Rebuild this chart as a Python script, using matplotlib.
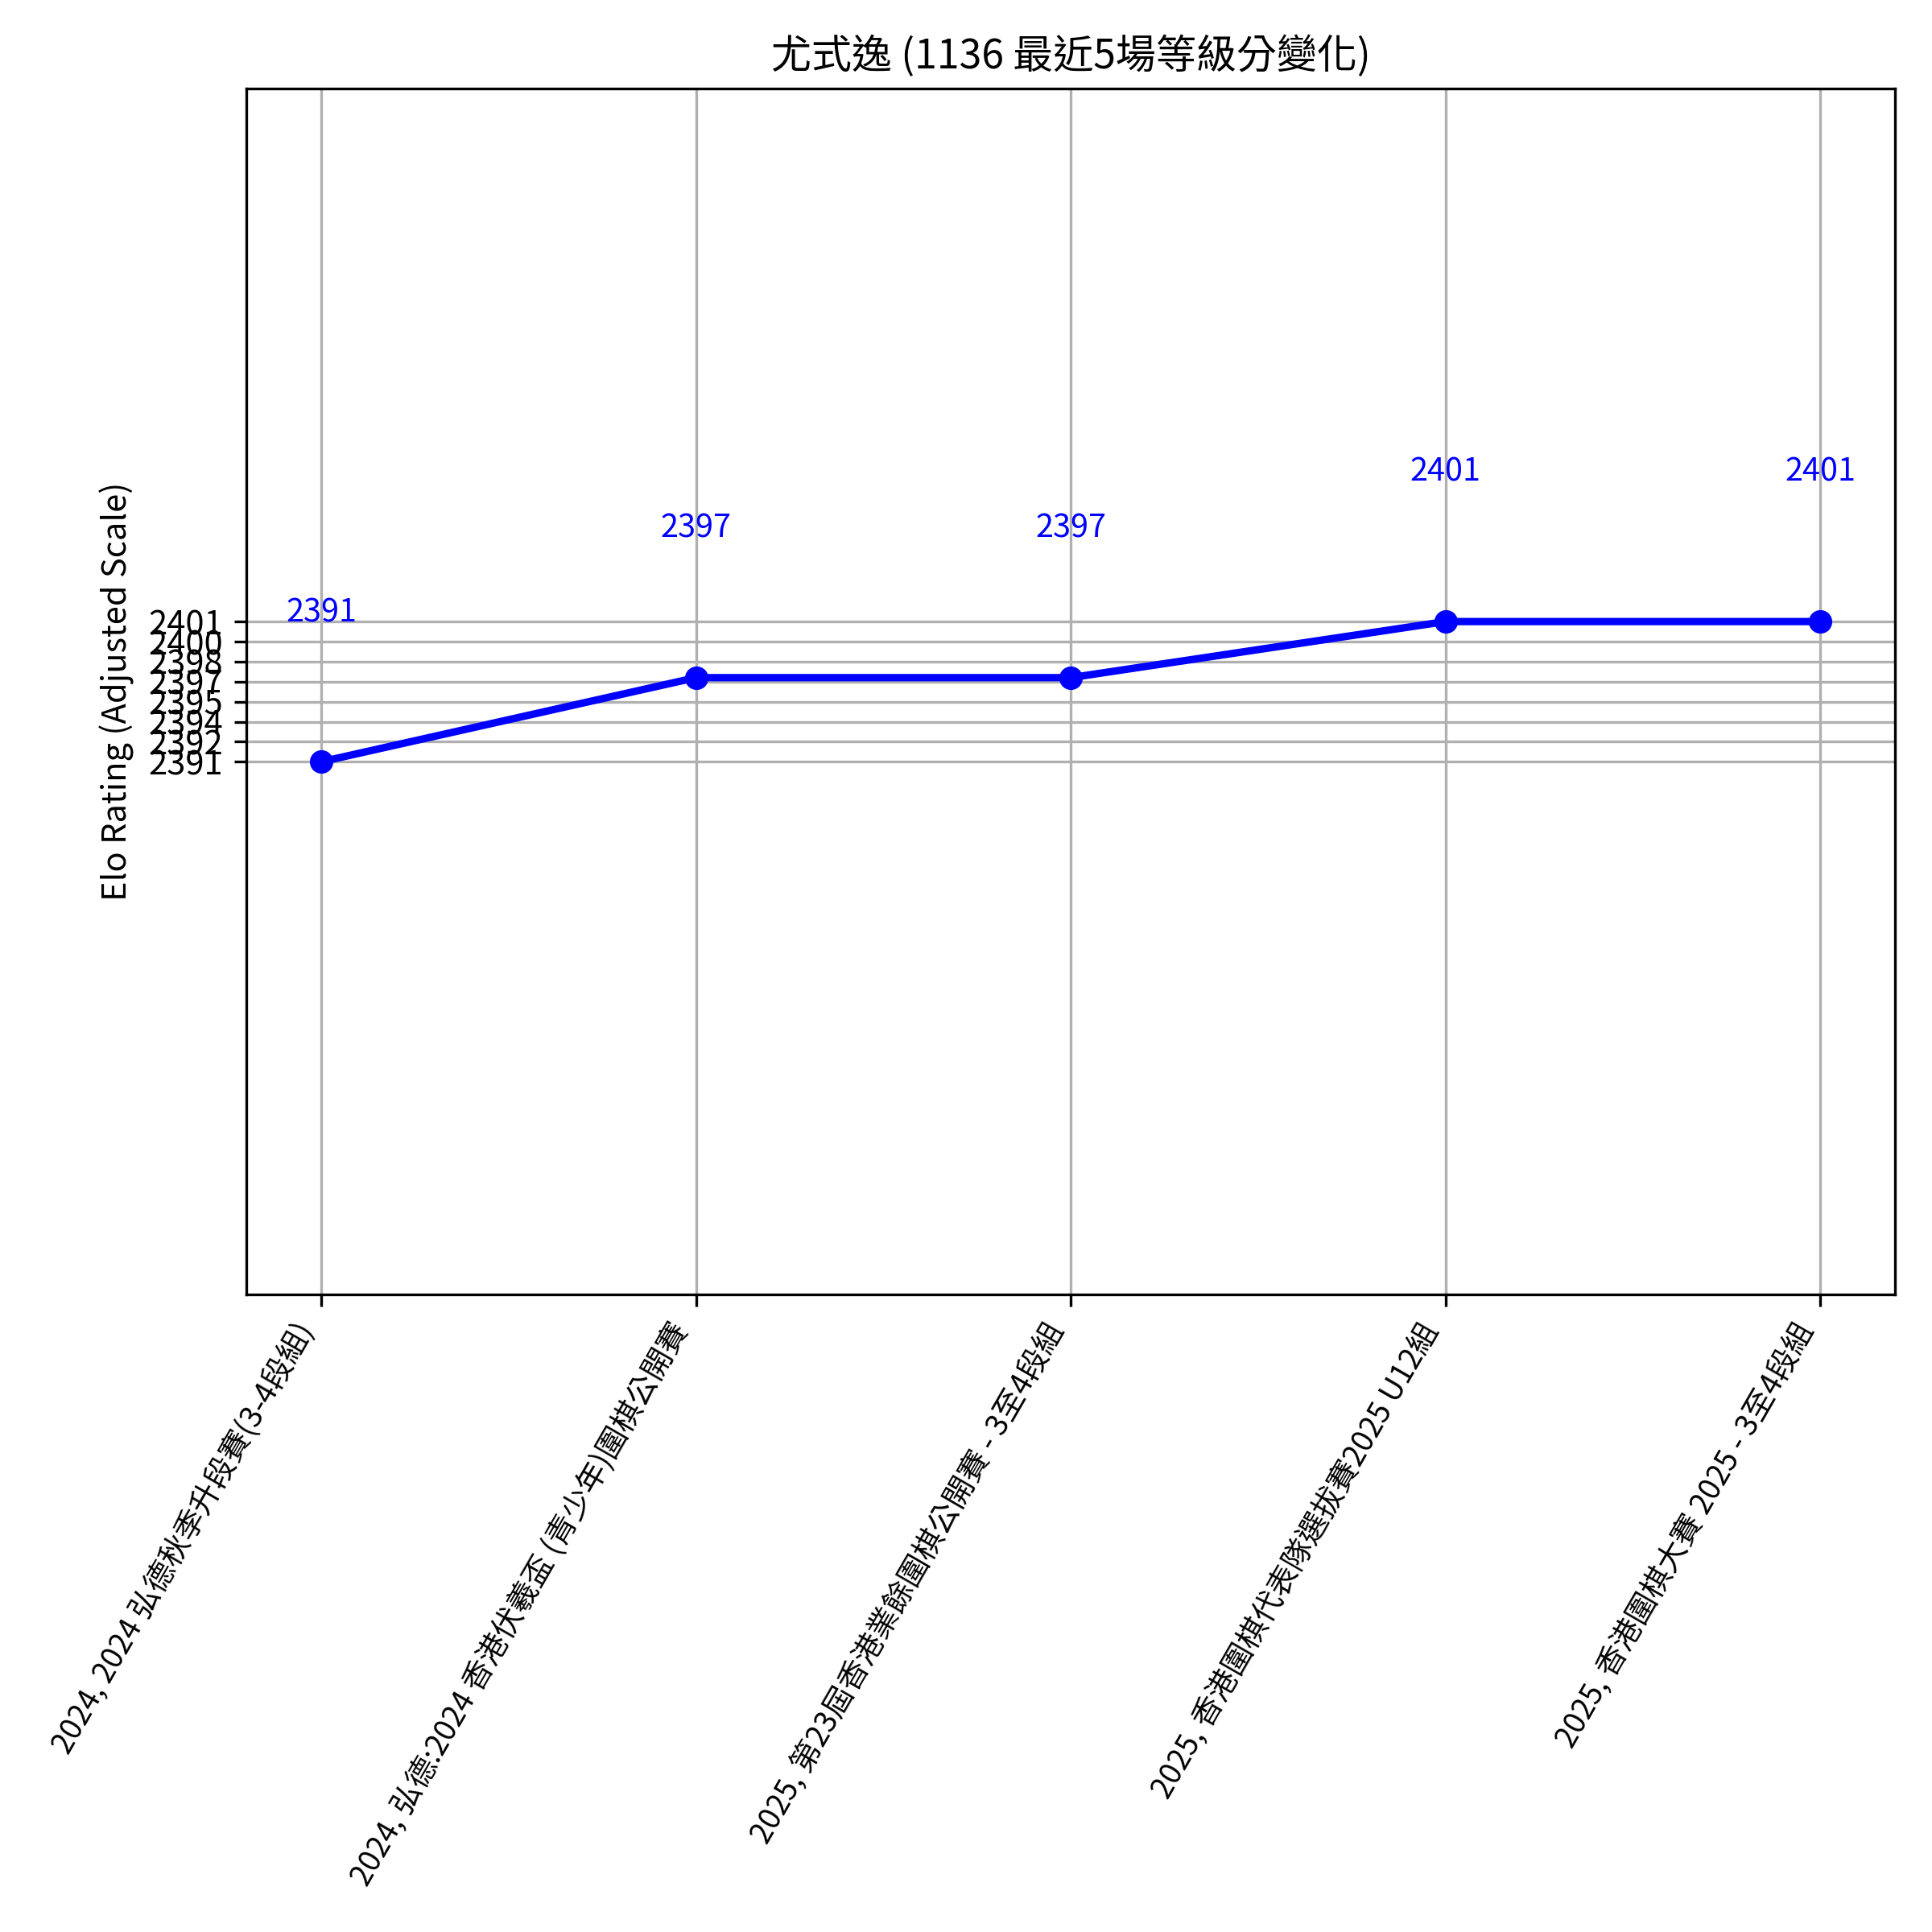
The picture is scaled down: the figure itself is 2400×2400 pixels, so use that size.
import numpy as np
import matplotlib
matplotlib.use("Agg")
import matplotlib.pyplot as plt

plt.rcParams['font.family'] = ['Noto Sans CJK TC', 'DejaVu Sans']

# Data
events = [
    "2024, 2024 弘德秋季升段賽(3-4段組)",
    "2024, 弘德:2024 香港伏羲盃 (青少年)圍棋公開賽",
    "2025, 第23屆香港業餘圍棋公開賽 - 3至4段組",
    "2025, 香港圍棋代表隊選拔賽2025 U12組",
    "2025, 香港圍棋大賽 2025 - 3至4段組",
]
ratings = [2391, 2397, 2397, 2401, 2401]
ytick_labels = ["2391", "2392", "2394", "2395", "2397", "2398", "2400", "2401"]
title = "尤式逸 (1136 最近5場等級分變化)"
ylabel = "Elo Rating (Adjusted Scale)"

fig = plt.figure(figsize=(8, 8), dpi=300)
ax = fig.add_axes([0.1275, 0.33, 0.8535, 0.624])

x = np.arange(len(events))
ax.plot(x, ratings, color='blue', marker='o', linewidth=2.2, markersize=6)

for xi, v in zip(x, ratings):
    ax.text(xi, v + 10, str(v), ha='center', va='baseline', color='blue', fontsize=9.5)

ax.set_xticks(x)
ax.set_xticklabels(events, rotation=60, ha='right', fontsize=9)

yt = np.linspace(min(ratings), max(ratings), len(ytick_labels))
ax.set_yticks(yt)
ax.set_yticklabels(ytick_labels, fontsize=10)
ax.set_ylim(2353, 2439)
ax.set_xlim(-0.2, len(events) - 0.8)

ax.set_ylabel(ylabel, fontsize=10)
ax.set_title(title, fontsize=12)
ax.grid(True)

fig.savefig("out.png", dpi=300)
